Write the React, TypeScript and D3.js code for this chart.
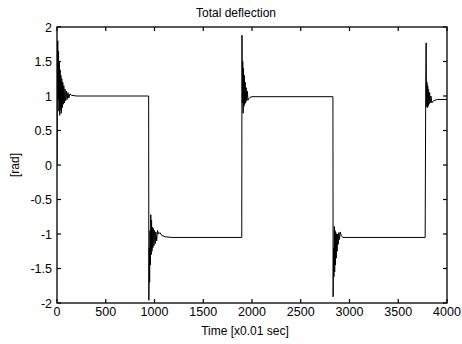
import React from "react";
import * as d3 from "d3";

type P = [number, number];

const xTicks = [0, 500, 1000, 1500, 2000, 2500, 3000, 3500, 4000];
const yTicks = [-2, -1.5, -1, -0.5, 0, 0.5, 1, 1.5, 2];
const yTickLabels = ["-2", "-1.5", "-1", "-0.5", "0", "0.5", "1", "1.5", "2"];

const seg1: P[] = [
  [0, 0], [3, 1.25], [8, 1.8], [12, 0.95], [16, 1.65], [20, 0.78], [24, 1.5], [28, 0.72],
  [32, 1.38], [36, 0.8], [40, 1.3], [44, 0.75], [49, 1.25], [54, 0.83], [59, 1.2], [64, 0.88],
  [70, 1.15], [76, 0.9], [82, 1.1], [89, 0.93], [96, 1.07], [104, 0.95], [112, 1.05],
  [121, 0.97], [132, 1.03], [150, 1.01], [200, 1.0], [940, 1.0],
];
const seg2: P[] = [
  [942, -1.96], [946, -1.2], [950, -1.7], [954, -0.95], [958, -1.45], [962, -0.72],
  [966, -1.3], [970, -0.8], [974, -1.25], [978, -0.9], [983, -1.2], [988, -0.92],
  [994, -1.17], [1000, -0.95], [1007, -1.14], [1014, -0.97], [1022, -1.1], [1031, -0.95],
  [1042, -1.0], [1055, -0.98], [1075, -1.02], [1110, -1.04], [1180, -1.05], [1895, -1.05],
];
const seg3: P[] = [
  [1897, 1.88], [1901, 0.9], [1905, 1.5], [1909, 0.75], [1913, 1.4], [1917, 0.85],
  [1921, 1.3], [1925, 0.88], [1930, 1.2], [1935, 0.9], [1940, 1.12], [1946, 0.93],
  [1952, 1.07], [1959, 0.94], [1967, 0.96], [1980, 0.98], [2000, 0.99], [2830, 0.99],
];
const seg4: P[] = [
  [2832, -1.91], [2836, -1.2], [2840, -1.62], [2844, -0.89], [2848, -1.55], [2852, -0.95],
  [2856, -1.45], [2860, -0.98], [2864, -1.35], [2868, -1.0], [2873, -1.25], [2878, -1.0],
  [2884, -1.15], [2890, -0.98], [2897, -1.08], [2905, -0.97], [2915, -1.02], [2930, -1.05],
  [3776, -1.05],
];
const seg5: P[] = [
  [3782, 1.2], [3786, 1.77], [3790, 0.85], [3794, 1.2], [3798, 0.83], [3802, 1.15],
  [3806, 0.85], [3811, 1.1], [3816, 0.88], [3822, 1.05], [3828, 0.9], [3835, 1.0],
  [3845, 0.9], [3860, 0.93], [3900, 0.95], [4000, 0.95],
];

const W = 462;
const H = 344;
const m = { l: 57, r: 15, t: 27, b: 41 };
const font = "'Liberation Sans', Arial, sans-serif";

export default function App() {
  const x = d3.scaleLinear().domain([0, 4000]).range([m.l, W - m.r]);
  const y = d3.scaleLinear().domain([-2, 2]).range([H - m.b, m.t]);
  const data = [...seg1, ...seg2, ...seg3, ...seg4, ...seg5];
  const line = d3.line<P>().x((d) => x(d[0])).y((d) => y(d[1]));
  const x0 = m.l, x1 = W - m.r, y0 = m.t, y1 = H - m.b;
  const tl = 4;
  return (
    <svg
      width={W}
      height={H}
      style={{ position: "fixed", left: 0, top: 0, background: "#fff" }}
      fontFamily={font}
    >
      <defs>
        <clipPath id="clip">
          <rect x={x0} y={y0 - 2} width={x1 - x0} height={y1 - y0 + 4} />
        </clipPath>
      </defs>
      <rect x={0} y={0} width={W} height={H} fill="#fff" />
      <path d={line(data) || ""} fill="none" stroke="#000" strokeWidth={1} clipPath="url(#clip)" />
      <rect x={x0} y={y0} width={x1 - x0} height={y1 - y0} fill="none" stroke="#000" strokeWidth={1.3} />
      {xTicks.map((t) => (
        <g key={"x" + t}>
          <line x1={x(t)} x2={x(t)} y1={y1} y2={y1 - tl} stroke="#000" strokeWidth={1.2} />
          <line x1={x(t)} x2={x(t)} y1={y0} y2={y0 + tl} stroke="#000" strokeWidth={1.2} />
          <text x={x(t)} y={316} fontSize={12.5} textAnchor="middle" fill="#000">
            {t}
          </text>
        </g>
      ))}
      {yTicks.map((t, i) => (
        <g key={"y" + t}>
          <line x1={x0} x2={x0 + tl} y1={y(t)} y2={y(t)} stroke="#000" strokeWidth={1.2} />
          <line x1={x1} x2={x1 - tl} y1={y(t)} y2={y(t)} stroke="#000" strokeWidth={1.2} />
          <text x={52} y={y(t) + 4.5} fontSize={12.5} textAnchor="end" fill="#000">
            {yTickLabels[i]}
          </text>
        </g>
      ))}
      <text x={236} y={17} fontSize={12} textAnchor="middle" fill="#000">
        Total deflection
      </text>
      <text x={245} y={335} fontSize={12} textAnchor="middle" fill="#000">
        Time [x0.01 sec]
      </text>
      <text
        x={0}
        y={0}
        fontSize={12}
        textAnchor="middle"
        fill="#000"
        transform={`translate(19,165) rotate(-90)`}
      >
        [rad]
      </text>
    </svg>
  );
}
